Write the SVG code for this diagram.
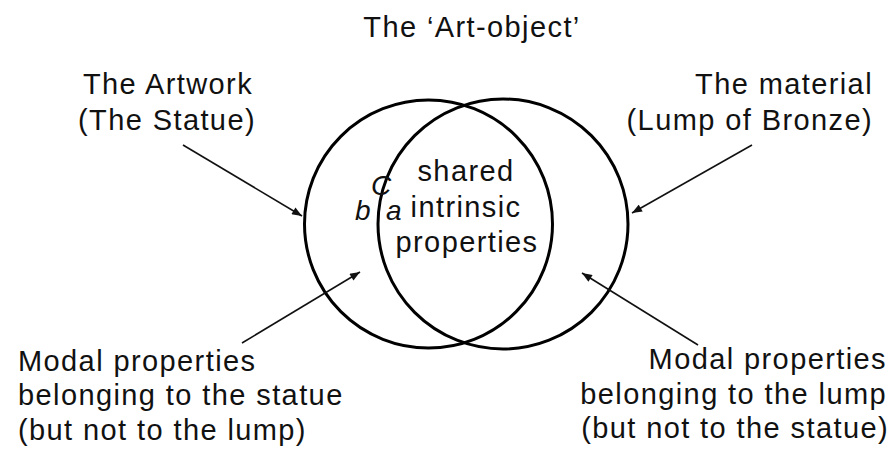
<svg xmlns="http://www.w3.org/2000/svg" width="894" height="457" viewBox="0 0 894 457">
  <style>
    .t { font-family: "Liberation Sans", Arial, sans-serif; font-size: 29px; letter-spacing: 1.4px; fill: #111; }
    .i { font-family: "Liberation Sans", Arial, sans-serif; font-style: italic; font-size: 28px; fill: #111; }
    .circ { fill: none; stroke: #000; stroke-width: 3; }
    .conn { stroke: #111; stroke-width: 1.6; fill: none; marker-end: url(#ah); }
  </style>
  <defs>
    <marker id="ah" viewBox="0 0 10 8" refX="10" refY="4" markerWidth="11" markerHeight="8" markerUnits="userSpaceOnUse" orient="auto">
      <path d="M0,0 L10,4 L0,8 Z" fill="#111"/>
    </marker>
  </defs>
  <rect width="894" height="457" fill="#fff"/>

  <g id="title">
    <text class="t" x="472" y="37" text-anchor="middle">The ‘Art-object’</text>
  </g>

  <g id="artwork-circle">
    <circle class="circ" cx="428.5" cy="224" r="124"/>
  </g>
  <g id="material-circle">
    <circle class="circ" cx="503" cy="224" r="125"/>
  </g>

  <g id="shared">
    <text class="t" x="466" y="181" text-anchor="middle">shared</text>
    <text class="t" x="466" y="217" text-anchor="middle">intrinsic</text>
    <text class="t" x="467" y="252" text-anchor="middle">properties</text>
  </g>

  <g id="point-labels">
    <text class="i" x="371" y="195">C</text>
    <text class="i" x="355" y="220">b</text>
    <text class="i" x="386" y="220">a</text>
  </g>

  <g id="artwork-label">
    <text class="t" x="168" y="94" text-anchor="middle">The Artwork</text>
    <text class="t" x="167" y="130" text-anchor="middle">(The Statue)</text>
  </g>

  <g id="material-label">
    <text class="t" x="873" y="94" text-anchor="end">The material</text>
    <text class="t" x="873" y="130" text-anchor="end">(Lump of Bronze)</text>
  </g>

  <g id="statue-modal">
    <text class="t" x="18" y="371">Modal properties</text>
    <text class="t" x="18" y="405">belonging to the statue</text>
    <text class="t" x="18" y="440">(but not to the lump)</text>
  </g>

  <g id="lump-modal">
    <text class="t" x="887" y="369" text-anchor="end">Modal properties</text>
    <text class="t" x="887" y="404" text-anchor="end">belonging to the lump</text>
    <text class="t" x="889" y="438" text-anchor="end">(but not to the statue)</text>
  </g>

  <g id="connectors">
    <line class="conn" x1="183" y1="145" x2="302" y2="216"/>
    <line class="conn" x1="752" y1="145" x2="632" y2="213"/>
    <line class="conn" x1="242" y1="343" x2="360" y2="272"/>
    <line class="conn" x1="698" y1="345" x2="582" y2="273"/>
  </g>
</svg>
